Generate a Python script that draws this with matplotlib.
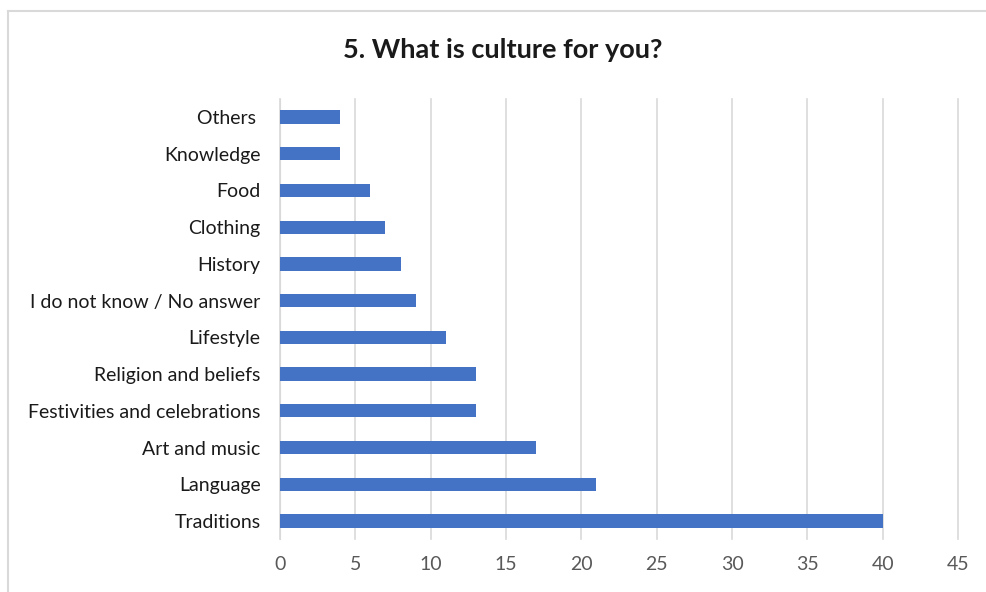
import matplotlib.pyplot as plt
from matplotlib.lines import Line2D

categories = ['Traditions', 'Language', 'Art and music', 'Festivities and celebrations',
              'Religion and beliefs', 'Lifestyle', 'I do not know / No answer',
              'History', 'Clothing', 'Food', 'Knowledge', 'Others ']
counts = [40, 21, 17, 13, 13, 11, 9, 8, 7, 6, 4, 4]
x_ticks = [0, 5, 10, 15, 20, 25, 30, 35, 40, 45]

plt.rcParams['font.family'] = ['Lato', 'DejaVu Sans']

fig = plt.figure(figsize=(9.86, 5.92), dpi=100)
ax = fig.add_axes([0.284, 0.0889, 0.6876, 0.7445])

ax.barh(range(len(categories)), counts, height=0.36, color='#4472c4', zorder=3)

ax.set_xlim(0, 45)
ax.set_ylim(-0.5, len(categories) - 0.5)
ax.set_xticks(x_ticks)
ax.set_yticks(range(len(categories)))
ax.set_yticklabels(categories, fontsize=14, color='#1a1a1a')
ax.tick_params(axis='x', labelsize=14, labelcolor='#595959', length=0, pad=12)
ax.tick_params(axis='y', length=0, pad=14)
ax.xaxis.grid(True, color='#d9d9d9', linewidth=1.2, zorder=0)
for gl in ax.get_xgridlines():
    gl.set_clip_on(False)

for side in ['top', 'right', 'bottom']:
    ax.spines[side].set_visible(False)
ax.spines['left'].set_color('#d9d9d9')

fig.text(0.51, 0.915, '5. What is culture for you?', ha='center', va='center',
         fontsize=19.5, fontweight='bold', color='#1a1a1a')

# chart border (only left and top visible in the reference crop)
bx, by = 8 / 986, 1 - 11 / 592
fig.lines.append(Line2D([bx, bx], [0, by], transform=fig.transFigure, color='#d9d9d9', linewidth=1.5))
fig.lines.append(Line2D([bx, 1], [by, by], transform=fig.transFigure, color='#d9d9d9', linewidth=1.5))

fig.savefig('out.png', dpi=100)
